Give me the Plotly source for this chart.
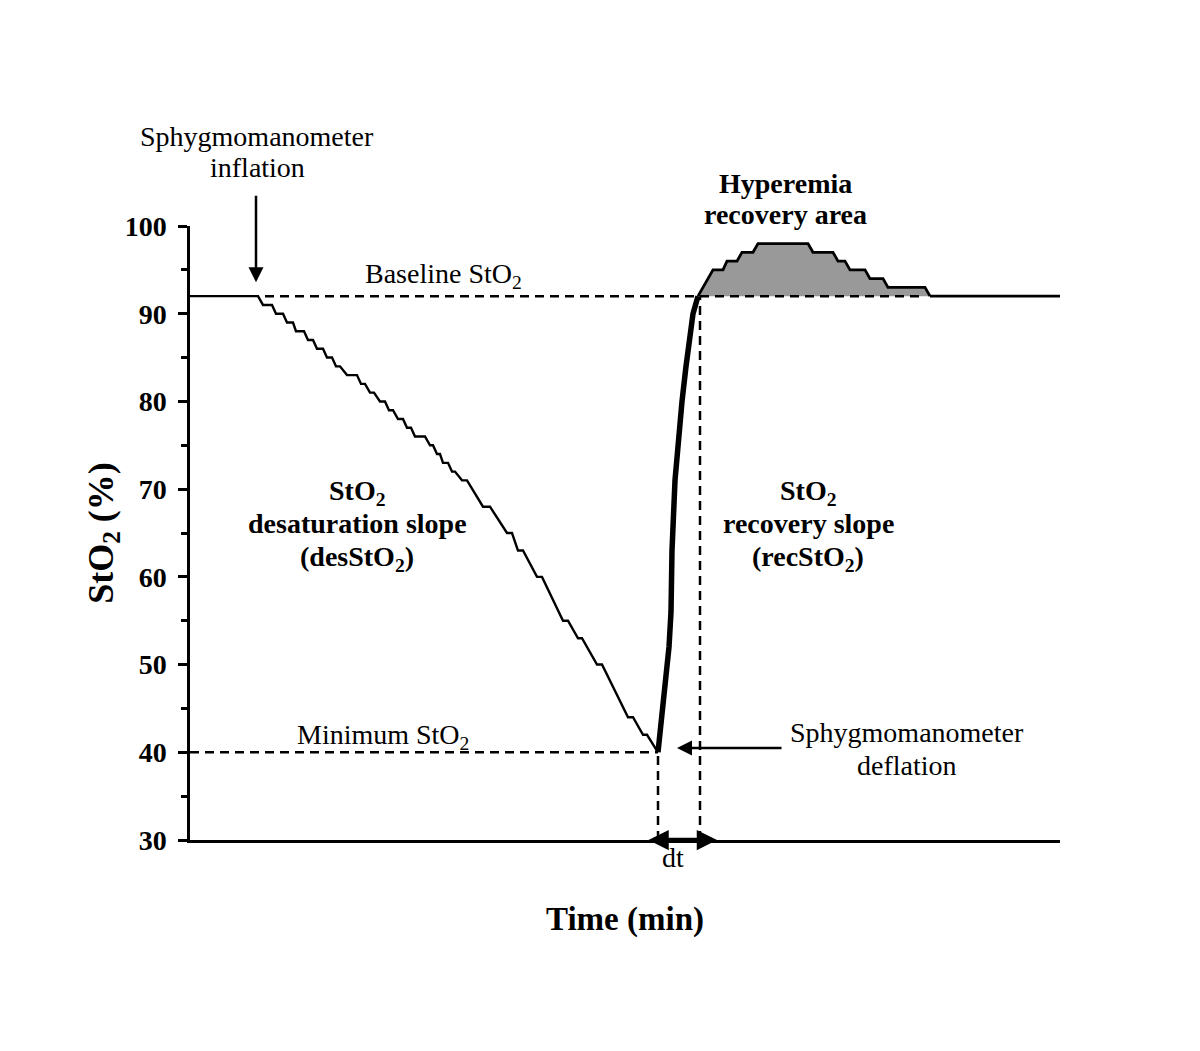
import plotly.graph_objects as go

# ---- data (time in arbitrary seconds from start, StO2 in %) ----
baseline_value = 92
minimum_value = 40

# desaturation staircase vertices (during cuff inflation)
desat_time = [0, 68, 73, 82, 86, 93, 97, 103, 106, 114, 118, 123, 127, 133, 137, 142,
              146, 150, 157, 167, 171, 175, 180, 184, 190, 195, 199, 203, 208, 213,
              217, 221, 225, 235, 240, 243, 247, 250, 253, 258, 262, 265, 272, 277,
              293, 300, 317, 322, 328, 333, 347, 352, 373, 378, 388, 392, 407, 412,
              438, 443, 453, 457, 468]
desat_value = [92, 92, 91, 91, 90, 90, 89, 89, 88, 88, 87, 87, 86, 86, 85, 85,
               84, 84, 83, 83, 82, 82, 81, 81, 80, 80, 79, 79, 78, 78,
               77, 77, 76, 76, 75, 75, 74, 74, 73, 73, 72, 72, 71, 71,
               68, 68, 65, 65, 63, 63, 60, 60, 55, 55, 53, 53, 50, 50,
               44, 44, 42, 42, 40]

# recovery after cuff deflation (thick line)
rec_time = [468, 472, 476, 479, 481, 482, 485, 489, 492, 496, 500, 503, 508]
rec_value = [40, 44, 48, 52, 56, 63, 71, 77, 80, 84, 87, 90, 92]

# hyperemia overshoot staircase
hyper_time = [508, 523, 533, 537, 547, 552, 563, 568, 618, 623, 643, 648, 655, 660,
              675, 680, 693, 698, 735, 740]
hyper_value = [92, 95, 95, 96, 96, 97, 97, 98, 98, 97, 97, 96, 96, 95,
               95, 94, 94, 93, 93, 92]

tail_time = [740, 870]
tail_value = [92, 92]

y_ticks = [30, 40, 50, 60, 70, 80, 90, 100]

FONT = "Liberation Serif, Times New Roman, serif"
BLACK = "#000000"

# page body has an 8px offset; plot area on screen spans x 190..1060, y 226..840
OFF = 8
W, H = 1200, 1051
L, T = 190 - OFF, 226 - OFF
R = W - (1060 - OFF)
B = H - (840 - OFF)

fig = go.Figure()

fig.add_trace(go.Scatter(x=hyper_time, y=hyper_value, mode="lines", fill="toself",
                         fillcolor="#999999", line=dict(color=BLACK, width=2.8),
                         hoverinfo="skip", showlegend=False))
fig.add_trace(go.Scatter(x=desat_time, y=desat_value, mode="lines",
                         line=dict(color=BLACK, width=2.4), showlegend=False))
fig.add_trace(go.Scatter(x=tail_time, y=tail_value, mode="lines",
                         line=dict(color=BLACK, width=2.6), showlegend=False))
fig.add_trace(go.Scatter(x=rec_time, y=rec_value, mode="lines",
                         line=dict(color=BLACK, width=5.5), showlegend=False))

dash = "9px,6px"
t_min = rec_time[0]
t_rec = rec_time[-1] + 2
shapes = [
    dict(type="line", x0=desat_time[1] + 7, x1=hyper_time[-1] - 5, y0=baseline_value, y1=baseline_value,
         line=dict(color=BLACK, width=2.5, dash=dash)),
    dict(type="line", x0=0, x1=t_min, y0=minimum_value, y1=minimum_value,
         line=dict(color=BLACK, width=2.5, dash=dash)),
    dict(type="line", x0=t_min, x1=t_min, y0=30, y1=minimum_value,
         line=dict(color=BLACK, width=2.5, dash=dash)),
    dict(type="line", x0=t_rec, x1=t_rec, y0=30, y1=baseline_value,
         line=dict(color=BLACK, width=2.5, dash=dash)),
]

txt = dict(family=FONT, size=28, color=BLACK)
bold = dict(family=FONT, size=28, color=BLACK)


def label(text, px, py, font):
    return dict(x=(px - 190) / 870.0, y=(840 - py) / 614.0, xref="paper", yref="paper",
                xanchor="center", yanchor="middle", text=text, showarrow=False, font=font)


annotations = [
    label("Sphygmomanometer", 257, 137, txt),
    label("inflation", 257, 168, txt),
    label("Baseline StO<sub>2</sub>", 443, 275, txt),
    label("Minimum StO<sub>2</sub>", 383, 736, txt),
    label("<b>Hyperemia</b>", 785, 184, bold),
    label("<b>recovery area</b>", 785, 214, bold),
    label("<b>StO<sub>2</sub></b>", 357, 492, bold),
    label("<b>desaturation slope</b>", 357, 523, bold),
    label("<b>(desStO<sub>2</sub>)</b>", 357, 558, bold),
    label("<b>StO<sub>2</sub></b>", 808, 492, bold),
    label("<b>recovery slope</b>", 808, 523, bold),
    label("<b>(recStO<sub>2</sub>)</b>", 808, 558, bold),
    label("Sphygmomanometer", 907, 732, txt),
    label("deflation", 907, 765, txt),
    label("dt", 673, 857, txt),
    dict(x=66, y=93.6, xref="x", yref="y", text="", showarrow=True, ax=0, ay=-88,
         arrowhead=2, arrowsize=1.2, arrowwidth=2.5, arrowcolor=BLACK),
    dict(x=487, y=40.5, xref="x", yref="y", text="", showarrow=True, ax=106, ay=0,
         arrowhead=2, arrowsize=1.2, arrowwidth=2.5, arrowcolor=BLACK),
    dict(x=527, y=30, xref="x", yref="y", axref="x", ayref="y", ax=457, ay=30, text="",
         showarrow=True, arrowside="end+start", arrowhead=2, startarrowhead=2,
         arrowsize=0.9, startarrowsize=0.9, arrowwidth=4.5, arrowcolor=BLACK),
]

fig.update_layout(
    width=W, height=H,
    margin=dict(l=L, r=R, t=T, b=B, autoexpand=False),
    paper_bgcolor="white", plot_bgcolor="white",
    shapes=shapes, annotations=annotations,
    font=dict(family=FONT, color=BLACK),
    xaxis=dict(range=[0, 870], showline=True, linecolor=BLACK, linewidth=2.5,
               showgrid=False, zeroline=False, showticklabels=False, ticks="",
               title=dict(text="<b>Time (min)</b>", font=dict(family=FONT, size=33, color=BLACK),
                          standoff=66)),
    yaxis=dict(range=[30, 100], showline=True, linecolor=BLACK, linewidth=2.5,
               showgrid=False, zeroline=False, tickvals=y_ticks,
               ticktext=[f"<b>{v}</b>" for v in y_ticks],
               ticks="outside", ticklen=9, tickwidth=2.5, tickcolor=BLACK,
               tickfont=dict(family=FONT, size=28, color=BLACK), ticklabelstandoff=6,
               minor=dict(dtick=5, tick0=30, ticks="outside", ticklen=6, tickwidth=2.5,
                          tickcolor=BLACK, showgrid=False),
               title=dict(text="<b>StO<sub>2</sub> (%)</b>", font=dict(family=FONT, size=36, color=BLACK),
                          standoff=1)),
)

fig.write_html("out.html")
